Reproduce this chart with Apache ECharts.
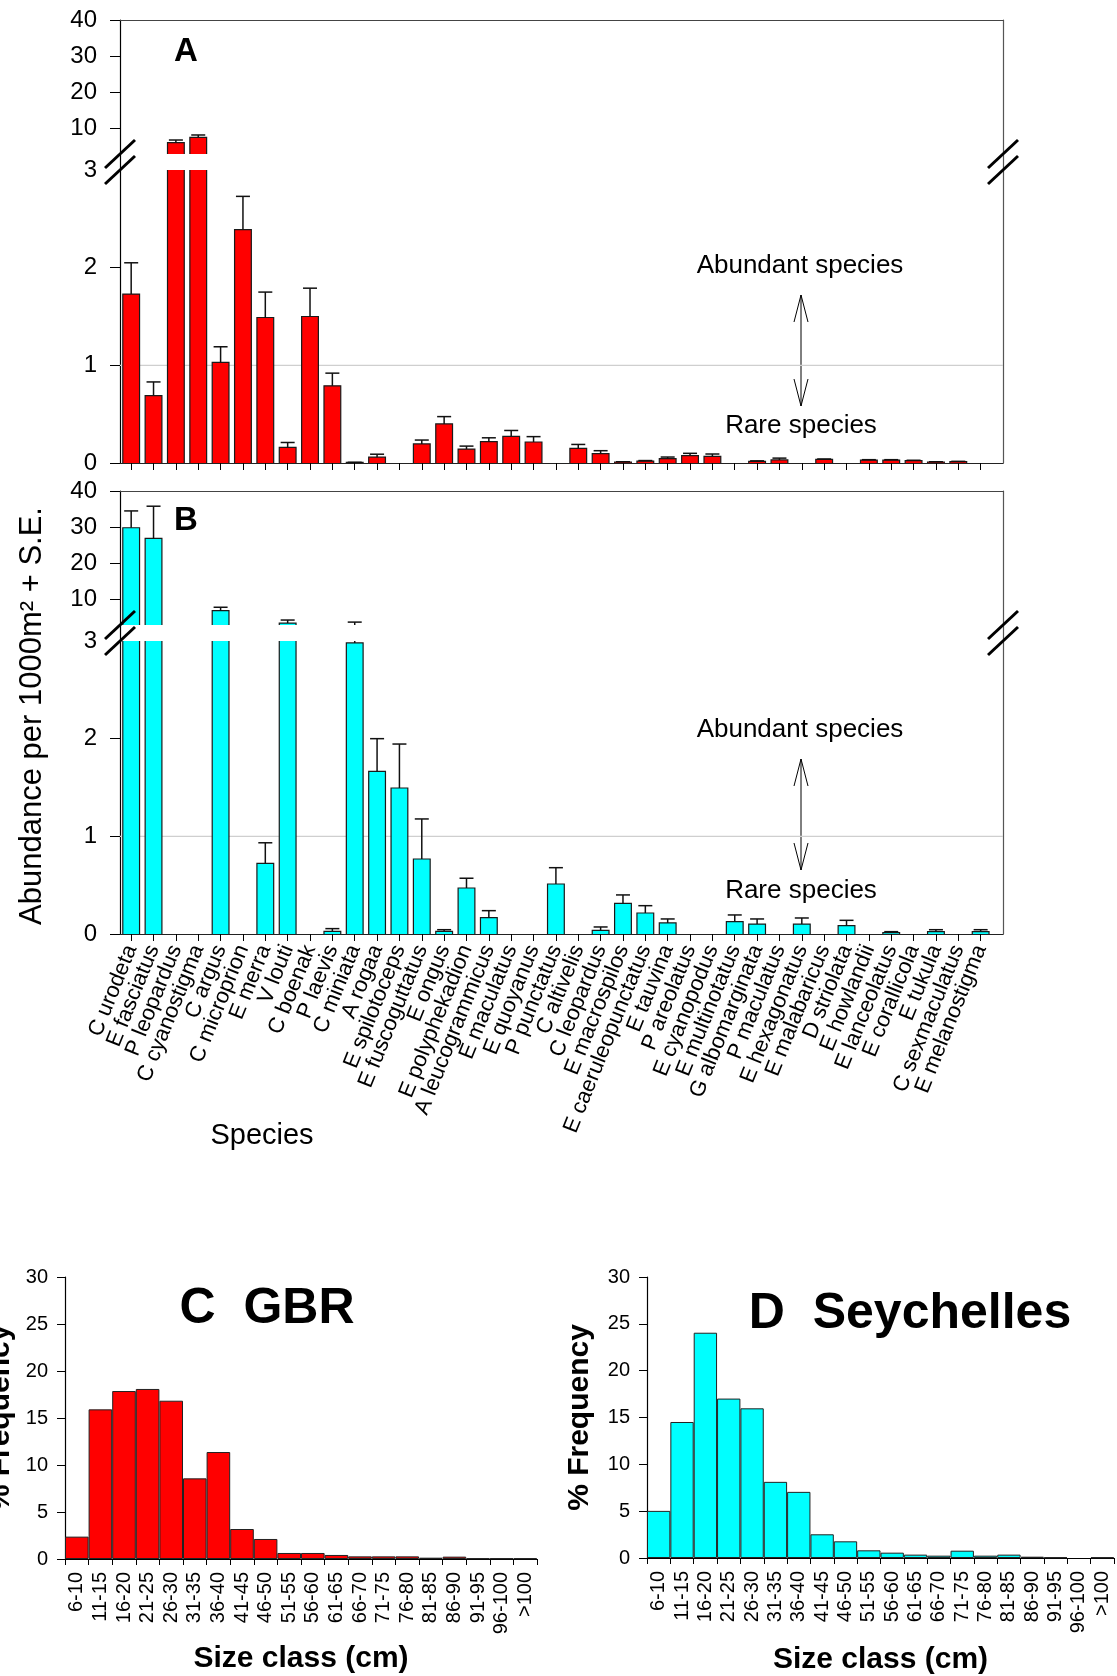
<!DOCTYPE html>
<html>
<head>
<meta charset="utf-8">
<script src="https://cdn.jsdelivr.net/npm/echarts@6/dist/echarts.min.js"></script>
<style>
  html, body { margin: 0; padding: 0; background: #fff; }
  #chart { width: 1117px; height: 1676px; }
</style>
</head>
<body>
<div id="chart"></div>
<script>
// species order shared by panels A and B
const species = [
  "C urodeta", "E fasciatus", "P leopardus", "C cyanostigma", "C argus",
  "C microprion", "E merra", "V louti", "C boenak", "P laevis",
  "C miniata", "A rogaa", "E spilotoceps", "E fuscoguttatus", "E ongus",
  "E polyphekadion", "A leucogrammicus", "E maculatus", "E quoyanus", "P punctatus",
  "C altivelis", "C leopardus", "E macrospilos", "E caeruleopunctatus", "E tauvina",
  "P areolatus", "E cyanopodus", "E multinotatus", "G albomarginata", "P maculatus",
  "E hexagonatus", "E malabaricus", "D striolata", "E howlandii", "E lanceolatus",
  "E corallicola", "E tukula", "C sexmaculatus", "E melanostigma"
];

// A - GBR abundance per 1000 m2 and S.E.
const gbrMean = [
  1.73, 0.69, 6.12, 7.6, 1.03, 2.39, 1.49, 0.16, 1.5, 0.79,
  0.007, 0.06, 0, 0.195, 0.4, 0.143, 0.218, 0.273, 0.215, 0,
  0.15, 0.096, 0.01, 0.02, 0.044, 0.075, 0.068, 0, 0.017, 0.031,
  0, 0.037, 0, 0.03, 0.03, 0.024, 0.01, 0.014, 0
];
const gbrSE = [
  0.32, 0.14, 0.74, 0.65, 0.16, 0.34, 0.26, 0.05, 0.29, 0.13,
  0, 0.03, 0, 0.04, 0.075, 0.03, 0.04, 0.06, 0.055, 0,
  0.04, 0.03, 0.003, 0.005, 0.017, 0.024, 0.024, 0, 0.005, 0.019,
  0, 0.004, 0, 0.004, 0.004, 0.004, 0.003, 0.003, 0
];

// B - Seychelles
const seyMean = [
  29.85, 26.9, 0, 0, 6.95, 0, 0.724, 3.54, 0, 0.027,
  2.98, 1.666, 1.495, 0.768, 0.027, 0.471, 0.167, 0, 0, 0.512,
  0, 0.038, 0.314, 0.215, 0.113, 0, 0, 0.126, 0.102, 0,
  0.102, 0, 0.085, 0, 0.014, 0, 0.024, 0, 0.024
];
const seySE = [
  4.65, 8.9, 0, 0, 0.95, 0, 0.21, 0.83, 0, 0.028,
  0.82, 0.334, 0.45, 0.41, 0.017, 0.1, 0.072, 0, 0, 0.167,
  0, 0.034, 0.086, 0.075, 0.041, 0, 0, 0.069, 0.052, 0,
  0.062, 0, 0.055, 0, 0.01, 0, 0.02, 0, 0.02
];

const threshold = 1;
const upperTicks = [10, 20, 30, 40];
const lowerLabels = [0, 1, 2, 3];

// C / D size class histograms
const sizeClasses = [
  "6-10", "11-15", "16-20", "21-25", "26-30", "31-35", "36-40", "41-45", "46-50", "51-55",
  "56-60", "61-65", "66-70", "71-75", "76-80", "81-85", "86-90", "91-95", "96-100", ">100"
];
const gbrFreq = [2.38, 15.92, 17.87, 18.09, 16.84, 8.58, 11.38, 3.19, 2.13, 0.64, 0.64, 0.43, 0.28, 0.28, 0.28, 0.14, 0.25, 0.07, 0.07, 0.07];
const seyFreq = [5.03, 14.52, 24.05, 17.02, 15.98, 8.13, 7.06, 2.53, 1.78, 0.82, 0.57, 0.36, 0.25, 0.78, 0.25, 0.36, 0.14, 0.07, 0, 0.07];

const FONT = "'Liberation Sans', Arial, Helvetica, sans-serif";
const RED = "#ff0000", CYAN = "#00ffff";

const chart = echarts.init(document.getElementById("chart"));

// bar drawn between lo and hi, outline only on the visible sides (no edge at the break)
function barRenderer(lo, hi, color) {
  return function (params, api) {
    const x = api.value(0), v = api.value(1);
    if (!(v > lo)) return null;
    const top = Math.min(v, hi);
    const half = api.size([1, 0])[0] * 0.375;
    const b = api.coord([x, lo]), t = api.coord([x, top]);
    const xl = b[0] - half, xr = b[0] + half;
    const edge = { stroke: "#1a1a1a", lineWidth: 1.2, fill: null };
    const children = [{
      type: "rect",
      shape: { x: xl, y: t[1], width: xr - xl, height: Math.max(b[1] - t[1], 0.6) },
      style: { fill: color }
    }];
    if (v <= hi) {
      children.push({ type: "polyline", shape: { points: [[xl, b[1]], [xl, t[1]], [xr, t[1]], [xr, b[1]]] }, style: edge });
    } else {
      children.push({ type: "line", shape: { x1: xl, y1: b[1], x2: xl, y2: t[1] }, style: edge });
      children.push({ type: "line", shape: { x1: xr, y1: b[1], x2: xr, y2: t[1] }, style: edge });
    }
    return { type: "group", children: children };
  };
}

// "+ S.E." whisker, clamped to the section [lo, hi]
function errRenderer(lo, hi) {
  return function (params, api) {
    const x = api.value(0), mean = api.value(1), top = api.value(2);
    if (!(mean > 0) || top <= lo || mean >= hi) return null;
    const p0 = api.coord([x, Math.max(mean, lo)]);
    const p1 = api.coord([x, Math.min(top, hi)]);
    const st = { stroke: "#111", lineWidth: 1.5 };
    const children = [{ type: "line", shape: { x1: p0[0], y1: p0[1], x2: p1[0], y2: p1[1] }, style: st }];
    if (top <= hi) {
      children.push({ type: "line", shape: { x1: p1[0] - 7, y1: p1[1], x2: p1[0] + 7, y2: p1[1] }, style: st });
    }
    return { type: "group", children: children };
  };
}

// x runs from 0.5 to 40 across the frame; species sit at 1..39
const L = 120, PW = 883, XMIN = 0.5, XMAX = 40;
const bandW = PW / (XMAX - XMIN);
const panels = [
  { top: 20, upperH: 134, lowerTop: 170, lowerH: 293, mean: gbrMean, se: gbrSE, color: RED, labels: false },
  { top: 491, upperH: 134, lowerTop: 641, lowerH: 293, mean: seyMean, se: seySE, color: CYAN, labels: true }
];

const grid = [], xAxis = [], yAxis = [], series = [];
const tickStyle = { color: "#000", width: 1 };
const hidden = { axisLine: { show: false }, axisTick: { show: false }, axisLabel: { show: false }, splitLine: { show: false } };
function mkGrid(o) {
  return Object.assign({ containLabel: false, outerBoundsMode: "none" }, o);
}

panels.forEach(p => {
  const g0 = grid.length;
  grid.push(mkGrid({ left: L, width: PW, top: p.top, height: p.upperH }));
  grid.push(mkGrid({ left: L, width: PW, top: p.lowerTop, height: p.lowerH }));
  grid.push(mkGrid({ left: L, width: PW, top: p.top, height: p.lowerTop + p.lowerH - p.top }));
  // species category band, one band per species starting at the left axis
  grid.push(mkGrid({ left: L, width: bandW * species.length, top: p.lowerTop, height: p.lowerH }));

  const xa0 = xAxis.length;
  xAxis.push({ gridIndex: g0, type: "value", min: XMIN, max: XMAX, show: false });
  xAxis.push(Object.assign({ gridIndex: g0 + 1, type: "value", min: XMIN, max: XMAX }, hidden, {
    axisLine: { show: true, onZero: false, lineStyle: { color: "#222", width: 1.2 } }
  }));
  xAxis.push(Object.assign({ gridIndex: g0 + 2, type: "value", min: 0, max: 1, position: "top" }, hidden, {
    axisLine: { show: true, onZero: false, lineStyle: { color: "#444", width: 1.2 } }
  }));
  xAxis.push({
    gridIndex: g0 + 3, type: "category", data: species,
    axisLine: { show: false },
    axisTick: { show: true, length: 7, interval: 0, alignWithLabel: true, lineStyle: tickStyle },
    axisLabel: p.labels ? {
      show: true, interval: 0, rotate: 68, margin: 12,
      fontFamily: FONT, fontSize: 22, color: "#000"
    } : { show: false },
    splitLine: { show: false }
  });

  const ya0 = yAxis.length;
  yAxis.push({
    gridIndex: g0, type: "value", min: 3, max: 40,
    axisLine: { show: false },
    axisTick: { show: true, length: 10, customValues: upperTicks, lineStyle: tickStyle },
    axisLabel: { customValues: upperTicks, fontFamily: FONT, fontSize: 24, color: "#000", margin: 23 },
    splitLine: { show: false }
  });
  yAxis.push({
    gridIndex: g0 + 1, type: "value", min: 0, max: 3,
    axisLine: { show: false },
    axisTick: { show: true, length: 10, customValues: [0, 1, 2], lineStyle: tickStyle },
    axisLabel: { customValues: lowerLabels, fontFamily: FONT, fontSize: 24, color: "#000", margin: 23 },
    splitLine: { show: false }
  });
  yAxis.push(Object.assign({ gridIndex: g0 + 2, type: "value", min: 0, max: 1, position: "left" }, hidden, {
    axisLine: { show: true, onZero: false, lineStyle: { color: "#000", width: 1.2 } }
  }));
  yAxis.push(Object.assign({ gridIndex: g0 + 2, type: "value", min: 0, max: 1, position: "right" }, hidden, {
    axisLine: { show: true, onZero: false, lineStyle: { color: "#555", width: 1.2 } }
  }));
  yAxis.push(Object.assign({ gridIndex: g0 + 3, type: "value", min: 0, max: 3 }, hidden));

  const rows = species.map((s, i) => [i + 1, p.mean[i], p.mean[i] + p.se[i]]);

  series.push({
    type: "line", xAxisIndex: xa0 + 1, yAxisIndex: ya0 + 1, z: 1, silent: true,
    data: [[XMIN, threshold], [XMAX, threshold]], symbol: "none",
    lineStyle: { color: "#cfcfcf", width: 1.2 }
  });
  series.push({
    type: "custom", xAxisIndex: xa0, yAxisIndex: ya0, z: 2,
    renderItem: barRenderer(3, 40, p.color), data: rows, encode: { x: 0, y: 1 }
  });
  series.push({
    type: "custom", xAxisIndex: xa0 + 1, yAxisIndex: ya0 + 1, z: 2,
    renderItem: barRenderer(0, 3, p.color), data: rows, encode: { x: 0, y: 1 }
  });
  series.push({
    type: "custom", xAxisIndex: xa0, yAxisIndex: ya0, z: 3,
    renderItem: errRenderer(3, 40), data: rows, encode: { x: 0, y: 2 }
  });
  series.push({
    type: "custom", xAxisIndex: xa0 + 1, yAxisIndex: ya0 + 1, z: 3,
    renderItem: errRenderer(0, 3), data: rows, encode: { x: 0, y: 2 }
  });
});

// histograms C and D
const hists = [
  { left: 65, width: 472, top: 1277, height: 282, data: gbrFreq, color: RED, nameGap: 49, xNameGap: 85 },
  { left: 647, width: 467, top: 1277, height: 281, data: seyFreq, color: CYAN, nameGap: 52, xNameGap: 87 }
];
hists.forEach(h => {
  const gi = grid.length;
  grid.push(mkGrid({ left: h.left, width: h.width, top: h.top, height: h.height }));
  const xi = xAxis.length, yi = yAxis.length;
  xAxis.push({
    gridIndex: gi, type: "category", data: sizeClasses,
    axisLine: { show: true, lineStyle: { color: "#000", width: 1.2 } },
    axisTick: { show: true, length: 6, interval: 0, lineStyle: tickStyle },
    axisLabel: { interval: 0, rotate: 90, margin: 13, fontFamily: FONT, fontSize: 20, color: "#000" },
    name: "Size class (cm)", nameLocation: "middle", nameGap: h.xNameGap,
    nameTextStyle: { fontFamily: FONT, fontSize: 30, fontWeight: "bold", color: "#000" }
  });
  yAxis.push({
    gridIndex: gi, type: "value", min: 0, max: 30, interval: 5,
    axisLine: { show: true, lineStyle: { color: "#000", width: 1.2 } },
    axisTick: { show: true, length: 8, lineStyle: tickStyle },
    axisLabel: { fontFamily: FONT, fontSize: 20, color: "#000", margin: 17 },
    splitLine: { show: false },
    name: "% Frequency", nameLocation: "middle", nameRotate: 90, nameGap: h.nameGap,
    nameTextStyle: { fontFamily: FONT, fontSize: 30, fontWeight: "bold", color: "#000" }
  });
  series.push({
    type: "bar", xAxisIndex: xi, yAxisIndex: yi, barCategoryGap: "0%",
    data: h.data.map(v => (v > 0 ? v : "-")),
    itemStyle: { color: h.color, borderColor: "#222", borderWidth: 1 }
  });
});

// decorations: axis breaks, panel letters, annotations
function breakMark(cx, cy) {
  return { type: "line", z: 100, shape: { x1: cx - 15, y1: cy + 14, x2: cx + 15, y2: cy - 14 }, style: { stroke: "#000", lineWidth: 3 } };
}
function arrow(x, y1, y2) {
  const st = { stroke: "#000", lineWidth: 1 };
  return {
    type: "group", children: [
      { type: "line", shape: { x1: x, y1: y1, x2: x, y2: y2 }, style: st },
      { type: "polyline", shape: { points: [[x - 7, y1 + 27], [x, y1], [x + 7, y1 + 27]] }, style: st },
      { type: "polyline", shape: { points: [[x - 7, y2 - 27], [x, y2], [x + 7, y2 - 27]] }, style: st }
    ]
  };
}
function txt(x, y, text, size, bold, rot) {
  return {
    type: "text", x: x, y: y, rotation: rot || 0, z: 100,
    style: { text: text, font: (bold ? "bold " : "") + size + "px " + FONT, fill: "#000", textAlign: "center", textVerticalAlign: "middle" }
  };
}

const graphic = [];
panels.forEach(p => {
  const yb1 = p.top + p.upperH, yb2 = p.lowerTop;
  [L, L + PW].forEach(x => { graphic.push(breakMark(x, yb1)); graphic.push(breakMark(x, yb2)); });
});
graphic.push(txt(186, 52, "A", 33, true));
graphic.push(txt(186, 521, "B", 33, true));
graphic.push(txt(800, 266, "Abundant species", 26));
graphic.push(arrow(801, 295, 406));
graphic.push(txt(801, 426, "Rare species", 26));
graphic.push(txt(800, 730, "Abundant species", 26));
graphic.push(arrow(801, 759, 870));
graphic.push(txt(801, 891, "Rare species", 26));
graphic.push(txt(32, 716, "Abundance per 1000m\u00b2 + S.E.", 31, false, Math.PI / 2));
graphic.push(txt(262, 1136, "Species", 29));
graphic.push(txt(267, 1309, "C  GBR", 50, true));
graphic.push(txt(910, 1314, "D  Seychelles", 50, true));

chart.setOption({
  animation: false,
  backgroundColor: "#fff",
  grid: grid,
  xAxis: xAxis,
  yAxis: yAxis,
  series: series,
  graphic: graphic
});
</script>
</body>
</html>
